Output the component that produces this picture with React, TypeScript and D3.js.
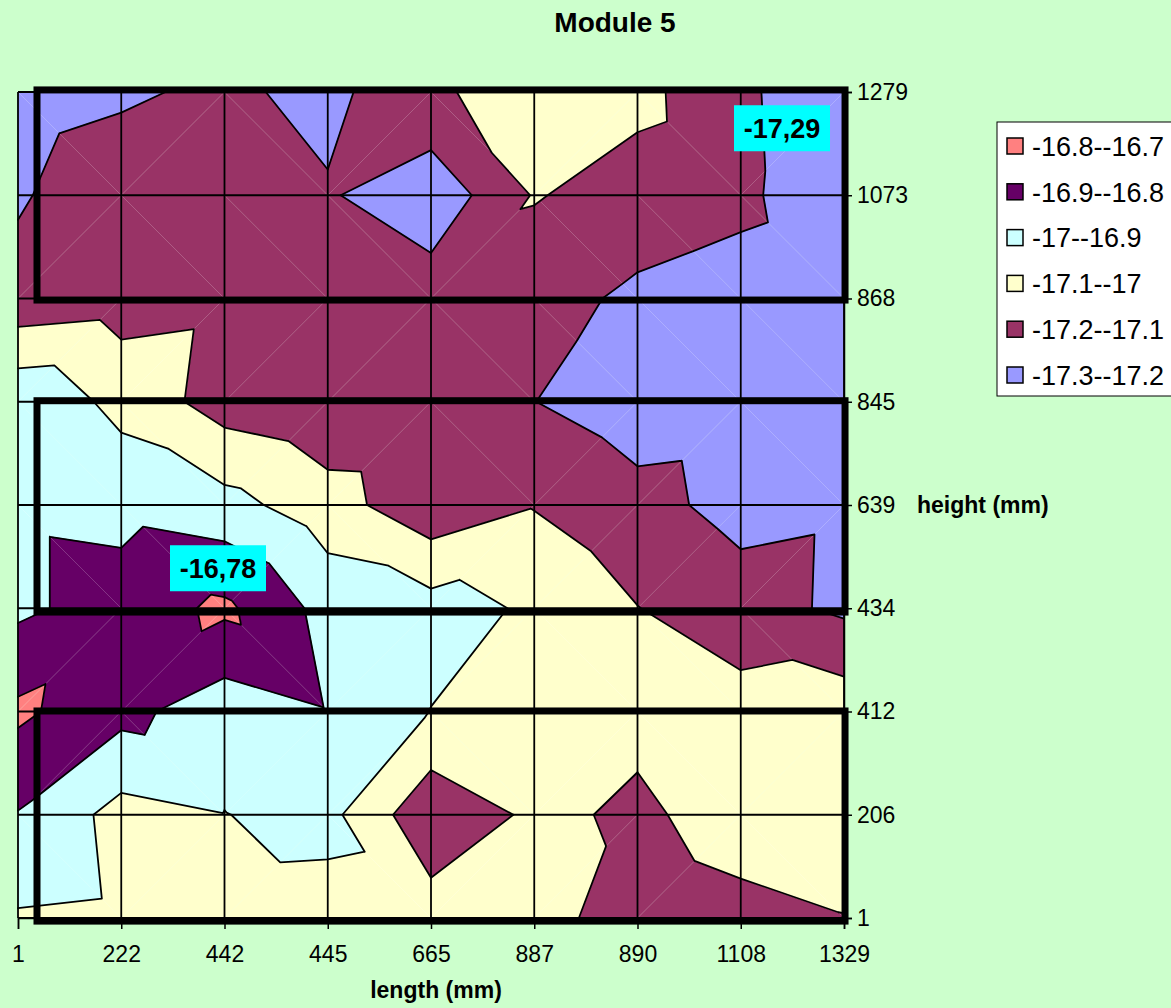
import React, { useEffect, useRef } from 'react';
import * as d3 from 'd3';

// axis categories as printed on the chart
const lengthLabels = ['1', '222', '442', '445', '665', '887', '890', '1108', '1329'];
const heightLabels = ['1279', '1073', '868', '845', '639', '434', '412', '206', '1'];

// measured values, one row per height (top to bottom), one column per length
const h1279 = [-17.24, -17.215, -17.18, -17.23, -17.11, -17.07, -17.07, -17.18, -17.28];
const h1073 = [-17.21, -17.14, -17.16, -17.19, -17.27, -17.093, -17.147, -17.175, -17.29];
const h868 = [-17.168, -17.147, -17.13, -17.15, -17.145, -17.165, -17.218, -17.245, -17.27];
const h845 = [-16.92, -17.029, -17.145, -17.183, -17.19, -17.199, -17.25, -17.24, -17.26];
const h639 = [-16.92, -16.932, -16.965, -17.057, -17.17, -17.105, -17.17, -17.23, -17.216];
const h434 = [-16.92, -16.855, -16.78, -16.935, -16.96, -17.014, -17.098, -17.16, -17.218];
const h412 = [-16.78, -16.87, -16.958, -16.905, -17.002, -17.065, -17.08, -17.06, -17.04];
const h206 = [-16.905, -17.035, -17.002, -16.971, -17.175, -17.081, -17.114, -17.066, -17.06];
const h1 = [-17.01, -17.022, -17.034, -17.038, -17.052, -17.068, -17.142, -17.121, -17.102];

const bandEdges = [-17.3, -17.2, -17.1, -17.0, -16.9, -16.8, -16.7];
const bandColors = ['#9999FF', '#993366', '#FFFFCC', '#CCFFFF', '#660066', '#FF8080'];
const bandLabels = ['-17.3--17.2', '-17.2--17.1', '-17.1--17', '-17--16.9', '-16.9--16.8', '-16.8--16.7'];

// data labels: text + the grid node they belong to
const valueNotes = [
  { text: '-16,78', col: 2, row: 5 },
  { text: '-17,29', col: 8, row: 1 },
];

interface INode {
  x: number;
  y: number;
  v: number;
}

const FONT = '"Liberation Sans", Arial, sans-serif';

const clip = (poly: INode[], level: number, above: boolean): INode[] => {
  const out: INode[] = [];
  const inside = (p: INode) => (above ? p.v >= level : p.v <= level);
  for (let i = 0; i < poly.length; i++) {
    const a = poly[i];
    const b = poly[(i + 1) % poly.length];
    const ia = inside(a);
    const ib = inside(b);
    if (ia) out.push(a);
    if (ia !== ib) {
      const t = (level - a.v) / (b.v - a.v);
      out.push({ x: a.x + t * (b.x - a.x), y: a.y + t * (b.y - a.y), v: level });
    }
  }
  return out;
};

const crossing = (tri: INode[], level: number): INode[] => {
  const pts: INode[] = [];
  for (let i = 0; i < 3; i++) {
    const a = tri[i];
    const b = tri[(i + 1) % 3];
    if (a.v >= level !== b.v >= level) {
      const t = (level - a.v) / (b.v - a.v);
      pts.push({ x: a.x + t * (b.x - a.x), y: a.y + t * (b.y - a.y), v: level });
    }
  }
  return pts;
};

const drawChart = (el: SVGSVGElement) => {
  const grid = [h1279, h1073, h868, h845, h639, h434, h412, h206, h1];
  const nCols = lengthLabels.length;
  const nRows = heightLabels.length;

  const svg = d3.select(el);
  svg.selectAll('*').remove();

  svg.append('rect').attr('width', 1171).attr('height', 1008).attr('fill', '#CCFFCC');

  const xIdx = d3.scaleLinear().domain([0, nCols - 1]).range([18, 844]);
  const yIdx = d3.scaleLinear().domain([0, nRows - 1]).range([92, 918]);
  const xCat = d3.scalePoint<string>().domain(lengthLabels).range([18, 844]);
  const yCat = d3.scalePoint<string>().domain(heightLabels).range([92, 918]);

  // split every cell into two triangles (Excel style)
  const node = (c: number, r: number): INode => ({ x: c, y: r, v: grid[r][c] });
  const tris: INode[][] = [];
  const diagonals: INode[][] = [];
  for (let r = 0; r < nRows - 1; r++) {
    for (let c = 0; c < nCols - 1; c++) {
      const tl = node(c, r);
      const tr = node(c + 1, r);
      const bl = node(c, r + 1);
      const br = node(c + 1, r + 1);
      if (tl.v + br.v >= tr.v + bl.v) {
        tris.push([tl, tr, br], [tl, br, bl]);
        diagonals.push([tl, br]);
      } else {
        tris.push([tl, tr, bl], [tr, br, bl]);
        diagonals.push([bl, tr]);
      }
    }
  }

  const areaLine = d3
    .line<INode>()
    .x((d) => xIdx(d.x))
    .y((d) => yIdx(d.y))
    .curve(d3.curveLinearClosed);

  const fillG = svg.append('g');
  bandColors.forEach((color, b) => {
    const lo = b === 0 ? -Infinity : bandEdges[b];
    const hi = b === bandColors.length - 1 ? Infinity : bandEdges[b + 1];
    tris.forEach((tri) => {
      let poly = clip(tri, lo, true);
      if (poly.length < 3) return;
      poly = clip(poly, hi, false);
      if (poly.length < 3) return;
      fillG
        .append('path')
        .attr('d', areaLine(poly) || '')
        .attr('fill', color)
        .attr('stroke', color)
        .attr('stroke-width', 0.8)
        .attr('stroke-linejoin', 'round');
    });
  });

  // faint triangulation lines
  svg
    .append('g')
    .selectAll('line')
    .data(diagonals)
    .enter()
    .append('line')
    .attr('x1', (d) => xIdx(d[0].x))
    .attr('y1', (d) => yIdx(d[0].y))
    .attr('x2', (d) => xIdx(d[1].x))
    .attr('y2', (d) => yIdx(d[1].y))
    .attr('stroke', '#ffffff')
    .attr('stroke-opacity', 0.2)
    .attr('stroke-width', 1);

  // contour lines
  const contourG = svg.append('g');
  bandEdges.slice(1, -1).forEach((level) => {
    const p = d3.path();
    tris.forEach((tri) => {
      const pts = crossing(tri, level);
      if (pts.length === 2) {
        p.moveTo(xIdx(pts[0].x), yIdx(pts[0].y));
        p.lineTo(xIdx(pts[1].x), yIdx(pts[1].y));
      }
    });
    contourG
      .append('path')
      .attr('d', p.toString())
      .attr('fill', 'none')
      .attr('stroke', '#000')
      .attr('stroke-width', 1.8)
      .attr('stroke-linecap', 'round');
  });

  // grid
  const gridG = svg.append('g').attr('stroke', '#000').attr('stroke-width', 1.8);
  d3.range(nCols).forEach((c) => {
    gridG.append('line').attr('x1', xIdx(c)).attr('x2', xIdx(c)).attr('y1', yIdx(0)).attr('y2', yIdx(nRows - 1));
  });
  d3.range(nRows).forEach((r) => {
    gridG.append('line').attr('y1', yIdx(r)).attr('y2', yIdx(r)).attr('x1', xIdx(0)).attr('x2', xIdx(nCols - 1));
  });

  // module frames
  const frames = [
    [-0.02, 2.015],
    [2.99, 5.037],
    [5.995, 8.03],
  ];
  frames.forEach(([r0, r1]) => {
    svg
      .append('rect')
      .attr('x', xIdx(0.184))
      .attr('y', yIdx(r0))
      .attr('width', xIdx(8.01) - xIdx(0.184))
      .attr('height', yIdx(r1) - yIdx(r0))
      .attr('fill', 'none')
      .attr('stroke', '#000')
      .attr('stroke-width', 7);
  });

  // axes
  const yAxisG = svg
    .append('g')
    .attr('transform', `translate(${xIdx(nCols - 1)},0)`)
    .call(d3.axisRight(yCat).tickSize(8).tickPadding(5));
  const xAxisG = svg
    .append('g')
    .attr('transform', `translate(0,${yIdx(nRows - 1)})`)
    .call(d3.axisBottom(xCat).tickSize(11).tickPadding(17));
  [yAxisG, xAxisG].forEach((g) => {
    g.selectAll('.domain').attr('stroke', '#000').attr('stroke-width', 1.5);
    g.selectAll('.tick line').attr('stroke', '#000').attr('stroke-width', 1.5);
    g.selectAll('text').attr('fill', '#000').style('font-size', '23px').style('font-family', FONT);
  });

  svg
    .append('text')
    .attr('x', 436)
    .attr('y', 998)
    .attr('text-anchor', 'middle')
    .style('font-family', FONT)
    .style('font-size', '23px')
    .style('font-weight', 'bold')
    .text('length (mm)');

  svg
    .append('text')
    .attr('x', 917)
    .attr('y', yIdx(4))
    .attr('dy', '0.36em')
    .style('font-family', FONT)
    .style('font-size', '23px')
    .style('font-weight', 'bold')
    .text('height (mm)');

  // data labels
  const noteOffsets = [
    [-6.5, -40],
    [-62, -67],
  ];
  valueNotes.forEach((n, i) => {
    const cx = xIdx(n.col) + noteOffsets[i][0];
    const cy = yIdx(n.row) + noteOffsets[i][1];
    svg
      .append('rect')
      .attr('x', cx - 48)
      .attr('y', cy - 23)
      .attr('width', 96)
      .attr('height', 46)
      .attr('fill', '#00FFFF');
    svg
      .append('text')
      .attr('x', cx)
      .attr('y', cy)
      .attr('dy', '0.36em')
      .attr('text-anchor', 'middle')
      .style('font-family', FONT)
      .style('font-size', '27px')
      .style('font-weight', 'bold')
      .text(n.text);
  });

  // legend
  const legend = svg.append('g');
  legend
    .append('rect')
    .attr('x', 997)
    .attr('y', 122)
    .attr('width', 200)
    .attr('height', 274)
    .attr('fill', '#fff')
    .attr('stroke', '#000')
    .attr('stroke-width', 1);
  const order = d3.range(bandColors.length).reverse();
  const legendY = d3.scaleLinear().domain([0, order.length - 1]).range([146, 375]);
  order.forEach((b, i) => {
    const cy = legendY(i);
    legend
      .append('rect')
      .attr('x', 1007)
      .attr('y', cy - 8)
      .attr('width', 16)
      .attr('height', 16)
      .attr('fill', bandColors[b])
      .attr('stroke', '#000')
      .attr('stroke-width', 1.5);
    legend
      .append('text')
      .attr('x', 1032)
      .attr('y', cy)
      .attr('dy', '0.36em')
      .style('font-family', FONT)
      .style('font-size', '27px')
      .text(bandLabels[b]);
  });

  svg
    .append('text')
    .attr('x', 615)
    .attr('y', 32)
    .attr('text-anchor', 'middle')
    .style('font-family', FONT)
    .style('font-size', '28px')
    .style('font-weight', 'bold')
    .text('Module 5');
};

const App: React.FC = () => {
  const svgRef = useRef<SVGSVGElement>(null);

  useEffect(() => {
    if (svgRef.current) drawChart(svgRef.current);
  }, []);

  return (
    <svg
      ref={svgRef}
      width={1171}
      height={1008}
      style={{ position: 'absolute', left: 0, top: 0, display: 'block' }}
    />
  );
};

export default App;
